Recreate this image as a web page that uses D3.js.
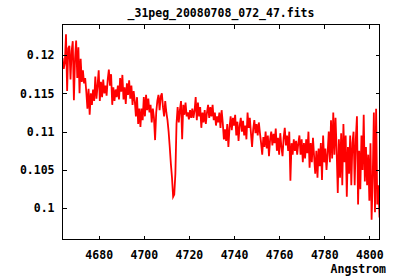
<!DOCTYPE html>
<html>
<head>
<meta charset="utf-8">
<script src="https://cdn.jsdelivr.net/npm/d3@7"></script>
<style>
  body { margin: 0; background: #fff; }
  text { font-family: "DejaVu Sans Mono", monospace; font-weight: bold; font-size: 11.5px; fill: #000; }
</style>
</head>
<body>
<div id="canvas"></div>
<script>
const width = 400
const height = 280

const title = '_31peg_20080708_072_47.fits'
const xLabel = 'Angstrom'

// wavelength grid of the spectrum (start, step in Angstrom)
const lambdaStart = 4664.0
const lambdaStep = 0.5

// flux, one value per grid step
const flux = [
  0.1196, 0.1182, 0.1190, 0.1227, 0.1153, 0.1209, 0.1212, 0.1168, 0.1205, 0.1218,
  0.1141, 0.1195, 0.1219, 0.1170, 0.1210, 0.1150, 0.1195, 0.1165, 0.1180, 0.1163,
  0.1170, 0.1152, 0.1130, 0.1156, 0.1122, 0.1150, 0.1135, 0.1155, 0.1140, 0.1172,
  0.1143, 0.1160, 0.1180, 0.1140, 0.1165, 0.1145, 0.1168, 0.1150, 0.1160, 0.1147,
  0.1168, 0.1181, 0.1160, 0.1175, 0.1135, 0.1158, 0.1140, 0.1155, 0.1145, 0.1160,
  0.1142, 0.1170, 0.1152, 0.1174, 0.1142, 0.1158, 0.1136, 0.1163, 0.1148, 0.1167,
  0.1143, 0.1160, 0.1135, 0.1153, 0.1140, 0.1120, 0.1145, 0.1110, 0.1130, 0.1106,
  0.1130, 0.1115, 0.1145, 0.1120, 0.1148, 0.1128, 0.1143, 0.1125, 0.1135, 0.1112,
  0.1130, 0.1118, 0.1089, 0.1125, 0.1140, 0.1148, 0.1128, 0.1146, 0.1150, 0.1132,
  0.1120, 0.1140, 0.1125, 0.1115, 0.1100, 0.1080, 0.1058, 0.1040, 0.1015, 0.1018,
  0.1045, 0.1110, 0.1132, 0.1112, 0.1128, 0.1140, 0.1090, 0.1135, 0.1122, 0.1138,
  0.1120, 0.1125, 0.1116, 0.1128, 0.1118, 0.1130, 0.1118, 0.1127, 0.1145, 0.1115,
  0.1138, 0.1120, 0.1132, 0.1105, 0.1125, 0.1112, 0.1128, 0.1110, 0.1125, 0.1135,
  0.1118, 0.1132, 0.1120, 0.1135, 0.1115, 0.1125, 0.1108, 0.1120, 0.1112, 0.1125,
  0.1105, 0.1128, 0.1112, 0.1090, 0.1103, 0.1088, 0.1110, 0.1080, 0.1105, 0.1120,
  0.1102, 0.1118, 0.1108, 0.1122, 0.1095, 0.1113, 0.1088, 0.1108, 0.1118, 0.1100,
  0.1114, 0.1095, 0.1108, 0.1090, 0.1125, 0.1105, 0.1118, 0.1098, 0.1080, 0.1103,
  0.1115, 0.1098, 0.1110, 0.1095, 0.1112, 0.1098, 0.1085, 0.1070, 0.1093, 0.1080,
  0.1100, 0.1078, 0.1095, 0.1068, 0.1090, 0.1100, 0.1082, 0.1097, 0.1085, 0.1104,
  0.1075, 0.1092, 0.1070, 0.1098, 0.1080, 0.1068, 0.1092, 0.1105, 0.1082, 0.1095,
  0.1075, 0.1100, 0.1036, 0.1085, 0.1070, 0.1090, 0.1075, 0.1088, 0.1070, 0.1085,
  0.1095, 0.1070, 0.1090, 0.1060, 0.1085, 0.1065, 0.1090, 0.1072, 0.1100, 0.1053,
  0.1085, 0.1060, 0.1092, 0.1068, 0.1045, 0.1075, 0.1040, 0.1078, 0.1055, 0.1085,
  0.1037, 0.1095, 0.1060, 0.1078, 0.1050, 0.1072, 0.1100, 0.1060, 0.1115, 0.1065,
  0.1125, 0.1070, 0.1118, 0.1075, 0.1020, 0.1090, 0.1040, 0.1098, 0.1030, 0.1110,
  0.1060, 0.1095, 0.1015, 0.1080, 0.1045, 0.1095, 0.1030, 0.1085, 0.1100, 0.1030,
  0.1090, 0.1120, 0.1005, 0.1075, 0.1025, 0.1095, 0.1050, 0.1122, 0.1035, 0.1080,
  0.1030, 0.1070, 0.1010, 0.1085, 0.0985, 0.1040, 0.1125, 0.0995, 0.1130, 0.1005,
  0.1030, 0.0988
]

const xTicks = [4680, 4700, 4720, 4740, 4760, 4780, 4800]
const yTicks = [0.1, 0.105, 0.11, 0.115, 0.12]
const yTickLabels = ['0.1', '0.105', '0.11', '0.115', '0.12']

// plot frame (pixels)
const plotLeft = 62.5
const plotRight = 379.5
const plotTop = 24.5
const plotBottom = 239.5
const tickLen = 4

const points = flux.map((f, i) => ({ lambda: lambdaStart + i * lambdaStep, flux: f }))

const x = d3.scaleLinear().domain([4663.95, 4804.5]).range([plotLeft, plotRight])
const y = d3.scaleLinear().domain([0.09593, 0.12398]).range([plotBottom, plotTop])

let svg = d3.select('#canvas').append('svg')
  .attr('width', width)
  .attr('height', height)

svg.append('clipPath').attr('id', 'plot-clip')
  .append('rect')
  .attr('x', plotLeft).attr('y', plotTop)
  .attr('width', plotRight - plotLeft).attr('height', plotBottom - plotTop)

// spectrum
svg.append('path')
  .datum(points)
  .attr('clip-path', 'url(#plot-clip)')
  .attr('fill', 'none')
  .attr('stroke', '#ff0000')
  .attr('stroke-width', 1.8)
  .attr('d', d3.line().x(d => x(d.lambda)).y(d => y(d.flux)))

// axes: bottom/left with labels, top/right mirrored ticks only
svg.append('g')
  .attr('transform', `translate(0,${plotBottom})`)
  .call(d3.axisBottom(x).tickValues(xTicks).tickSize(-tickLen).tickPadding(11).tickFormat(d3.format('d')))
svg.append('g')
  .attr('transform', `translate(0,${plotTop})`)
  .call(d3.axisTop(x).tickValues(xTicks).tickSize(-tickLen).tickFormat(''))
svg.append('g')
  .attr('transform', `translate(${plotLeft},0)`)
  .call(d3.axisLeft(y).tickValues(yTicks).tickSize(-tickLen).tickPadding(8).tickFormat((d, i) => yTickLabels[i]))
svg.append('g')
  .attr('transform', `translate(${plotRight},0)`)
  .call(d3.axisRight(y).tickValues(yTicks).tickSize(-tickLen).tickFormat(''))

svg.selectAll('.domain').remove()
svg.selectAll('.tick line').attr('stroke', '#000').attr('shape-rendering', 'crispEdges')
svg.selectAll('g').attr('font-family', null).attr('font-size', null)

svg.append('rect')
  .attr('x', plotLeft).attr('y', plotTop)
  .attr('width', plotRight - plotLeft).attr('height', plotBottom - plotTop)
  .attr('fill', 'none')
  .attr('stroke', '#000')
  .attr('shape-rendering', 'crispEdges')

svg.append('text')
  .text(title)
  .attr('x', (plotLeft + plotRight) / 2)
  .attr('y', 17)
  .attr('text-anchor', 'middle')

svg.append('text')
  .text(xLabel)
  .attr('x', 386)
  .attr('y', 273)
  .attr('text-anchor', 'end')
</script>
</body>
</html>
